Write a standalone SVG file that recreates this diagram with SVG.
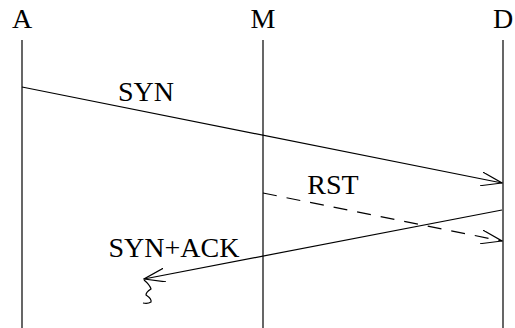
<svg xmlns="http://www.w3.org/2000/svg" width="515" height="328" viewBox="0 0 515 328">
<style>
text{font-family:"Liberation Serif","Times New Roman",serif;font-size:28px;fill:#000}
.life{stroke:#000;stroke-width:1.2;fill:none}
.msg{stroke:#000;stroke-width:1.2;fill:none}
.dash{stroke-dasharray:14,10}
</style>
<defs>
<marker id="arr" viewBox="0 0 22 14" refX="21" refY="7" markerWidth="22" markerHeight="14" markerUnits="userSpaceOnUse" orient="auto">
<path d="M0,0 L21,7 L0,14" fill="none" stroke="#000" stroke-width="1.2"/>
</marker>
</defs>
<rect width="515" height="328" fill="#fff"/>
<g id="node-A"><text x="22" y="28" text-anchor="middle">A</text><line class="life" x1="22" y1="40" x2="22" y2="328"/></g>
<g id="node-M"><text x="263" y="28" text-anchor="middle">M</text><line class="life" x1="263" y1="40" x2="263" y2="328"/></g>
<g id="node-D"><text x="503" y="28" text-anchor="middle">D</text><line class="life" x1="503" y1="40" x2="503" y2="328"/></g>
<g id="connectors">
<line class="msg" x1="22" y1="87" x2="502" y2="183" marker-end="url(#arr)"/>
<text x="146" y="101" text-anchor="middle">SYN</text>
<line class="msg dash" x1="263" y1="193" x2="502" y2="241" marker-end="url(#arr)"/>
<text x="333" y="194" text-anchor="middle">RST</text>
<line class="msg" x1="502" y1="210" x2="144" y2="279" marker-end="url(#arr)"/>
<text x="174" y="257" text-anchor="middle">SYN+ACK</text>
<path class="msg" d="M144,280 Q150,285 151,289 Q146,292 146,295 Q152,299 151,302 Q148,304 143,303"/>
</g>
</svg>
